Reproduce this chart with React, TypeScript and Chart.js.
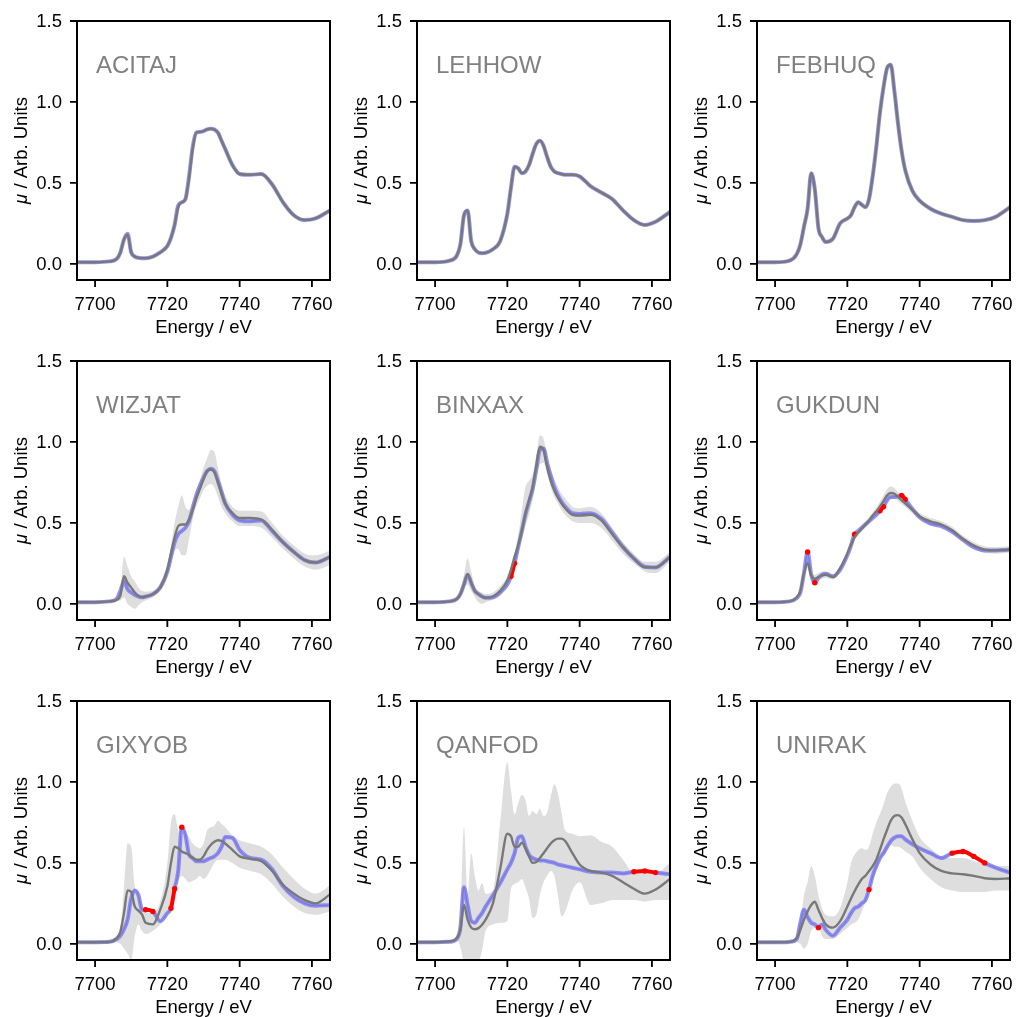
import React, { useEffect, useRef } from "react";
import { Chart, registerables } from "chart.js";

Chart.register(...registerables);

// ---------------- data ----------------
const ENERGY = [7695, 7700, 7704, 7706, 7707, 7708, 7709, 7710, 7711, 7712, 7713, 7714, 7716, 7718, 7720, 7721, 7722, 7723, 7724, 7725, 7726, 7727, 7728, 7729, 7730, 7731, 7732, 7733, 7734, 7735, 7736, 7738, 7740, 7743, 7746, 7749, 7752, 7755, 7758, 7761, 7765];

const X_TICKS = [7700, 7720, 7740, 7760];
const X_TICK_LABELS = ["7700", "7720", "7740", "7760"];
const Y_TICKS = [0, 0.5, 1.0, 1.5];
const Y_TICK_LABELS = ["0.0", "0.5", "1.0", "1.5"];
const X_TITLE = "Energy / eV";
const Y_TITLE_SYMBOL = "μ";
const Y_TITLE_REST = " / Arb. Units";

const NAMES = ["ACITAJ", "LEHHOW", "FEBHUQ", "WIZJAT", "BINXAX", "GUKDUN", "GIXYOB", "QANFOD", "UNIRAK"];

const ACITAJ_TRUE = [0.01, 0.01, 0.015, 0.03, 0.07, 0.15, 0.185, 0.07, 0.045, 0.037, 0.035, 0.035, 0.045, 0.07, 0.11, 0.16, 0.24, 0.36, 0.38, 0.40, 0.54, 0.72, 0.81, 0.815, 0.82, 0.83, 0.835, 0.83, 0.81, 0.76, 0.71, 0.61, 0.555, 0.55, 0.555, 0.49, 0.38, 0.30, 0.27, 0.28, 0.33];
const ACITAJ_MEAN = [0.01, 0.01, 0.015, 0.03, 0.07, 0.15, 0.18, 0.07, 0.045, 0.037, 0.035, 0.035, 0.045, 0.07, 0.11, 0.16, 0.24, 0.35, 0.38, 0.40, 0.53, 0.71, 0.81, 0.815, 0.82, 0.83, 0.835, 0.83, 0.81, 0.76, 0.71, 0.61, 0.555, 0.55, 0.555, 0.49, 0.38, 0.30, 0.27, 0.28, 0.33];

const LEHHOW_TRUE = [0.01, 0.01, 0.02, 0.05, 0.12, 0.30, 0.33, 0.14, 0.09, 0.07, 0.066, 0.068, 0.09, 0.14, 0.31, 0.47, 0.60, 0.59, 0.56, 0.57, 0.61, 0.68, 0.74, 0.76, 0.73, 0.66, 0.60, 0.57, 0.56, 0.555, 0.55, 0.55, 0.54, 0.48, 0.44, 0.40, 0.33, 0.27, 0.24, 0.26, 0.32];
const LEHHOW_MEAN = [0.01, 0.01, 0.02, 0.05, 0.12, 0.30, 0.33, 0.14, 0.09, 0.07, 0.066, 0.068, 0.09, 0.14, 0.31, 0.47, 0.60, 0.59, 0.56, 0.57, 0.61, 0.68, 0.74, 0.76, 0.73, 0.66, 0.60, 0.57, 0.56, 0.555, 0.55, 0.55, 0.54, 0.48, 0.44, 0.40, 0.33, 0.27, 0.24, 0.26, 0.32];

const FEBHUQ_TRUE = [0.01, 0.01, 0.02, 0.06, 0.12, 0.23, 0.34, 0.56, 0.46, 0.22, 0.165, 0.135, 0.155, 0.25, 0.28, 0.30, 0.35, 0.38, 0.365, 0.35, 0.40, 0.54, 0.72, 0.93, 1.09, 1.21, 1.23, 1.07, 0.87, 0.70, 0.58, 0.45, 0.39, 0.34, 0.31, 0.29, 0.27, 0.265, 0.27, 0.29, 0.35];
const FEBHUQ_MEAN = [0.01, 0.01, 0.02, 0.06, 0.12, 0.23, 0.34, 0.56, 0.46, 0.22, 0.165, 0.135, 0.155, 0.25, 0.28, 0.30, 0.35, 0.38, 0.365, 0.35, 0.40, 0.54, 0.72, 0.93, 1.09, 1.21, 1.23, 1.07, 0.87, 0.70, 0.58, 0.45, 0.39, 0.34, 0.31, 0.29, 0.27, 0.265, 0.27, 0.29, 0.35];

const WIZJAT_TRUE = [0.01, 0.01, 0.015, 0.03, 0.08, 0.14, 0.09, 0.07, 0.055, 0.045, 0.04, 0.045, 0.06, 0.10, 0.20, 0.29, 0.38, 0.43, 0.45, 0.47, 0.51, 0.59, 0.67, 0.73, 0.78, 0.82, 0.835, 0.82, 0.76, 0.69, 0.62, 0.55, 0.515, 0.51, 0.515, 0.45, 0.38, 0.32, 0.27, 0.255, 0.29];
const WIZJAT_MEAN = [0.01, 0.01, 0.015, 0.025, 0.05, 0.17, 0.13, 0.10, 0.07, 0.05, 0.04, 0.045, 0.06, 0.10, 0.21, 0.31, 0.41, 0.48, 0.49, 0.49, 0.52, 0.58, 0.65, 0.71, 0.77, 0.82, 0.83, 0.815, 0.75, 0.68, 0.62, 0.56, 0.53, 0.53, 0.52, 0.455, 0.38, 0.32, 0.27, 0.255, 0.29];
const WIZJAT_UPPER = [0.015, 0.015, 0.02, 0.04, 0.08, 0.29, 0.23, 0.17, 0.14, 0.10, 0.08, 0.075, 0.08, 0.12, 0.24, 0.36, 0.50, 0.60, 0.67, 0.60, 0.58, 0.63, 0.70, 0.76, 0.84, 0.90, 0.95, 0.94, 0.84, 0.74, 0.67, 0.60, 0.575, 0.575, 0.57, 0.50, 0.42, 0.36, 0.31, 0.30, 0.33];
const WIZJAT_LOWER = [0.005, 0.005, 0.01, 0.015, 0.02, 0.04, 0.0, -0.02, -0.03, -0.01, 0.01, 0.02, 0.04, 0.08, 0.17, 0.25, 0.33, 0.34, 0.30, 0.30, 0.40, 0.52, 0.60, 0.65, 0.70, 0.73, 0.74, 0.72, 0.66, 0.60, 0.56, 0.51, 0.48, 0.48, 0.47, 0.41, 0.34, 0.28, 0.23, 0.21, 0.24];

const BINXAX_TRUE = [0.01, 0.01, 0.015, 0.03, 0.06, 0.12, 0.18, 0.13, 0.08, 0.06, 0.045, 0.037, 0.04, 0.07, 0.12, 0.17, 0.25, 0.35, 0.45, 0.55, 0.63, 0.71, 0.83, 0.95, 0.96, 0.87, 0.79, 0.72, 0.67, 0.63, 0.60, 0.56, 0.555, 0.56, 0.525, 0.44, 0.35, 0.28, 0.23, 0.225, 0.29];
const BINXAX_MEAN = [0.01, 0.01, 0.015, 0.03, 0.06, 0.12, 0.185, 0.13, 0.08, 0.06, 0.045, 0.037, 0.045, 0.08, 0.145, 0.21, 0.29, 0.36, 0.45, 0.56, 0.64, 0.72, 0.85, 0.97, 0.95, 0.845, 0.76, 0.70, 0.655, 0.62, 0.59, 0.55, 0.545, 0.55, 0.515, 0.43, 0.35, 0.28, 0.225, 0.225, 0.29];
const BINXAX_UPPER = [0.015, 0.015, 0.02, 0.04, 0.09, 0.18, 0.28, 0.20, 0.11, 0.08, 0.07, 0.06, 0.07, 0.11, 0.17, 0.24, 0.32, 0.42, 0.58, 0.72, 0.76, 0.80, 0.92, 1.04, 1.02, 0.92, 0.83, 0.77, 0.72, 0.68, 0.65, 0.60, 0.59, 0.60, 0.56, 0.47, 0.38, 0.31, 0.26, 0.26, 0.32];
const BINXAX_LOWER = [0.005, 0.005, 0.01, 0.02, 0.04, 0.09, 0.12, 0.08, 0.04, 0.01, 0.0, 0.01, 0.025, 0.05, 0.12, 0.18, 0.27, 0.33, 0.40, 0.48, 0.55, 0.64, 0.76, 0.86, 0.87, 0.80, 0.72, 0.66, 0.62, 0.58, 0.55, 0.51, 0.50, 0.50, 0.47, 0.39, 0.31, 0.25, 0.20, 0.19, 0.26];

const GUKDUN_TRUE = [0.01, 0.01, 0.015, 0.035, 0.07, 0.19, 0.32, 0.18, 0.13, 0.16, 0.18, 0.185, 0.17, 0.21, 0.30, 0.36, 0.43, 0.45, 0.47, 0.49, 0.51, 0.53, 0.55, 0.575, 0.60, 0.64, 0.66, 0.66, 0.665, 0.67, 0.645, 0.585, 0.535, 0.495, 0.48, 0.445, 0.395, 0.35, 0.33, 0.33, 0.335];
const GUKDUN_MEAN = [0.01, 0.01, 0.015, 0.04, 0.08, 0.19, 0.25, 0.175, 0.155, 0.165, 0.175, 0.18, 0.165, 0.22, 0.31, 0.365, 0.41, 0.44, 0.465, 0.49, 0.515, 0.545, 0.57, 0.60, 0.635, 0.67, 0.685, 0.68, 0.66, 0.64, 0.62, 0.58, 0.54, 0.51, 0.49, 0.455, 0.40, 0.36, 0.335, 0.33, 0.335];
const GUKDUN_UPPER = [0.015, 0.015, 0.02, 0.05, 0.10, 0.22, 0.29, 0.20, 0.18, 0.19, 0.20, 0.20, 0.18, 0.24, 0.33, 0.385, 0.425, 0.46, 0.485, 0.51, 0.535, 0.565, 0.595, 0.63, 0.67, 0.71, 0.725, 0.715, 0.69, 0.665, 0.64, 0.60, 0.56, 0.53, 0.51, 0.475, 0.42, 0.38, 0.355, 0.35, 0.355];
const GUKDUN_LOWER = [0.005, 0.005, 0.01, 0.03, 0.06, 0.16, 0.22, 0.15, 0.14, 0.145, 0.155, 0.16, 0.15, 0.20, 0.29, 0.345, 0.395, 0.42, 0.445, 0.47, 0.495, 0.525, 0.55, 0.58, 0.61, 0.64, 0.655, 0.65, 0.635, 0.615, 0.60, 0.56, 0.52, 0.49, 0.47, 0.435, 0.38, 0.34, 0.315, 0.31, 0.315];

const GIXYOB_TRUE = [0.01, 0.01, 0.012, 0.03, 0.05, 0.09, 0.15, 0.28, 0.33, 0.30, 0.21, 0.21, 0.20, 0.14, 0.19, 0.22, 0.34, 0.45, 0.72, 0.67, 0.55, 0.53, 0.51, 0.51, 0.51, 0.52, 0.53, 0.54, 0.56, 0.60, 0.66, 0.655, 0.58, 0.53, 0.52, 0.46, 0.355, 0.29, 0.25, 0.235, 0.24];
const GIXYOB_MEAN = [0.01, 0.01, 0.012, 0.035, 0.075, 0.19, 0.33, 0.32, 0.23, 0.205, 0.18, 0.13, 0.12, 0.21, 0.355, 0.50, 0.60, 0.59, 0.57, 0.56, 0.55, 0.53, 0.52, 0.52, 0.54, 0.58, 0.61, 0.63, 0.64, 0.635, 0.62, 0.58, 0.54, 0.525, 0.51, 0.45, 0.365, 0.31, 0.27, 0.25, 0.305];
const GIXYOB_UPPER = [0.015, 0.015, 0.02, 0.05, 0.10, 0.35, 0.62, 0.60, 0.35, 0.31, 0.25, 0.19, 0.19, 0.26, 0.50, 0.75, 0.80, 0.70, 0.66, 0.68, 0.66, 0.62, 0.60, 0.59, 0.62, 0.70, 0.72, 0.73, 0.76, 0.74, 0.72, 0.67, 0.64, 0.62, 0.60, 0.55, 0.47, 0.40, 0.34, 0.31, 0.36];
const GIXYOB_LOWER = [0.005, 0.005, 0.008, 0.01, 0.0, -0.03, -0.06, -0.1, 0.05, 0.12, 0.08, 0.06, 0.08, 0.12, 0.18, 0.24, 0.38, 0.40, 0.42, 0.40, 0.38, 0.39, 0.40, 0.42, 0.40, 0.42, 0.46, 0.50, 0.52, 0.52, 0.52, 0.50, 0.47, 0.45, 0.43, 0.37, 0.29, 0.23, 0.19, 0.18, 0.20];

const QANFOD_TRUE = [0.01, 0.01, 0.012, 0.03, 0.10, 0.35, 0.24, 0.14, 0.13, 0.16, 0.19, 0.23, 0.30, 0.375, 0.46, 0.50, 0.56, 0.655, 0.665, 0.60, 0.55, 0.53, 0.52, 0.515, 0.515, 0.51, 0.505, 0.50, 0.49, 0.485, 0.48, 0.47, 0.46, 0.445, 0.44, 0.44, 0.435, 0.445, 0.45, 0.44, 0.43];
const QANFOD_MEAN = [0.01, 0.01, 0.015, 0.035, 0.087, 0.24, 0.15, 0.10, 0.09, 0.097, 0.118, 0.15, 0.25, 0.46, 0.68, 0.665, 0.60, 0.60, 0.625, 0.59, 0.54, 0.50, 0.505, 0.53, 0.56, 0.59, 0.62, 0.64, 0.65, 0.65, 0.635, 0.56, 0.49, 0.45, 0.44, 0.42, 0.38, 0.34, 0.31, 0.335, 0.40];
const QANFOD_UPPER = [0.015, 0.015, 0.02, 0.05, 0.15, 0.72, 0.30, 0.56, 0.42, 0.33, 0.375, 0.31, 0.33, 0.75, 1.12, 0.95, 0.80, 0.87, 0.92, 0.89, 0.79, 0.82, 0.80, 0.835, 0.79, 0.81, 0.91, 0.985, 0.93, 0.81, 0.70, 0.68, 0.665, 0.67, 0.63, 0.60, 0.52, 0.44, 0.44, 0.435, 0.50];
const QANFOD_LOWER = [0.005, 0.005, 0.01, 0.02, -0.02, -0.12, -0.15, -0.15, -0.15, -0.12, -0.04, 0.08, 0.12, 0.13, 0.14, 0.34, 0.37, 0.38, 0.40, 0.35, 0.28, 0.16, 0.18, 0.30, 0.38, 0.42, 0.45, 0.42, 0.30, 0.17, 0.20, 0.33, 0.38, 0.24, 0.25, 0.27, 0.27, 0.27, 0.26, 0.27, 0.27];

const UNIRAK_TRUE = [0.01, 0.01, 0.012, 0.03, 0.13, 0.21, 0.165, 0.13, 0.12, 0.10, 0.12, 0.087, 0.05, 0.10, 0.15, 0.19, 0.22, 0.23, 0.25, 0.27, 0.335, 0.42, 0.48, 0.53, 0.56, 0.60, 0.635, 0.655, 0.665, 0.665, 0.645, 0.615, 0.59, 0.56, 0.53, 0.56, 0.57, 0.54, 0.50, 0.47, 0.44];
const UNIRAK_MEAN = [0.01, 0.01, 0.012, 0.035, 0.087, 0.15, 0.20, 0.24, 0.26, 0.21, 0.16, 0.12, 0.10, 0.14, 0.23, 0.28, 0.325, 0.365, 0.40, 0.42, 0.45, 0.48, 0.52, 0.58, 0.645, 0.705, 0.76, 0.79, 0.795, 0.78, 0.74, 0.645, 0.56, 0.49, 0.45, 0.435, 0.43, 0.42, 0.405, 0.40, 0.405];
const UNIRAK_UPPER = [0.015, 0.015, 0.02, 0.05, 0.14, 0.30, 0.38, 0.48, 0.42, 0.30, 0.22, 0.18, 0.17, 0.22, 0.38, 0.50, 0.55, 0.58, 0.59, 0.58, 0.60, 0.68, 0.75, 0.80, 0.86, 0.93, 0.97, 0.99, 0.99, 0.96, 0.88, 0.76, 0.66, 0.59, 0.54, 0.53, 0.53, 0.51, 0.495, 0.48, 0.48];
const UNIRAK_LOWER = [0.005, 0.005, 0.008, 0.01, 0.0, -0.03, 0.0, 0.08, 0.10, 0.11, 0.05, 0.03, 0.03, 0.06, 0.10, 0.12, 0.13, 0.15, 0.20, 0.26, 0.34, 0.40, 0.45, 0.50, 0.55, 0.58, 0.61, 0.60, 0.60, 0.59, 0.57, 0.54, 0.47, 0.40, 0.35, 0.33, 0.32, 0.32, 0.32, 0.33, 0.33];

type PanelData = {
  name: string;
  truth: number[];
  mean: number[];
  upper: number[] | null;
  lower: number[] | null;
};

const PANELS: PanelData[] = [
  { name: NAMES[0], truth: ACITAJ_TRUE, mean: ACITAJ_MEAN, upper: null, lower: null },
  { name: NAMES[1], truth: LEHHOW_TRUE, mean: LEHHOW_MEAN, upper: null, lower: null },
  { name: NAMES[2], truth: FEBHUQ_TRUE, mean: FEBHUQ_MEAN, upper: null, lower: null },
  { name: NAMES[3], truth: WIZJAT_TRUE, mean: WIZJAT_MEAN, upper: WIZJAT_UPPER, lower: WIZJAT_LOWER },
  { name: NAMES[4], truth: BINXAX_TRUE, mean: BINXAX_MEAN, upper: BINXAX_UPPER, lower: BINXAX_LOWER },
  { name: NAMES[5], truth: GUKDUN_TRUE, mean: GUKDUN_MEAN, upper: GUKDUN_UPPER, lower: GUKDUN_LOWER },
  { name: NAMES[6], truth: GIXYOB_TRUE, mean: GIXYOB_MEAN, upper: GIXYOB_UPPER, lower: GIXYOB_LOWER },
  { name: NAMES[7], truth: QANFOD_TRUE, mean: QANFOD_MEAN, upper: QANFOD_UPPER, lower: QANFOD_LOWER },
  { name: NAMES[8], truth: UNIRAK_TRUE, mean: UNIRAK_MEAN, upper: UNIRAK_UPPER, lower: UNIRAK_LOWER },
];

// ---------------- style ----------------
const FONT = '"Liberation Sans", Arial, Helvetica, sans-serif';
const CELL = 340;
const PAD = { left: 77, top: 21, right: 10, bottom: 60 };
const GRAY_LINE = "#787878";
const LAVENDER = "rgba(128,128,235,0.85)";
const BLUE = "#2020ff";
const RED = "#ff0000";
const BAND = "#dedede";

const toXY = (arr: number[]) => ENERGY.map((e, i) => ({ x: e, y: arr[i] }));

function Panel({ p, left, top }: { p: PanelData; left: number; top: number }) {
  const ref = useRef<HTMLCanvasElement>(null);

  useEffect(() => {
    const canvas = ref.current;
    if (!canvas) return;

    const out = (i: number) =>
      !!p.upper && !!p.lower && i >= 0 && i < p.truth.length &&
      (p.truth[i] > p.upper[i] || p.truth[i] < p.lower[i]);

    const datasets: any[] = [
      {
        label: "mean",
        data: toXY(p.mean),
        borderColor: GRAY_LINE,
        borderWidth: 2.4,
        pointRadius: 0,
        fill: false,
        cubicInterpolationMode: "monotone",
        order: 0,
      },
      {
        label: "truth",
        data: toXY(p.truth),
        borderColor: LAVENDER,
        borderWidth: 4,
        pointRadius: (ctx: any) => (out(ctx.dataIndex) ? 2.7 : 0),
        pointBackgroundColor: RED,
        pointBorderWidth: 0,
        fill: false,
        cubicInterpolationMode: "monotone",
        segment: {
          borderColor: (ctx: any) =>
            out(ctx.p0DataIndex) && out(ctx.p1DataIndex) ? RED : undefined,
        },
        order: 1,
      },
      {
        label: "truthLine",
        data: toXY(p.truth),
        borderColor: BLUE,
        borderWidth: 1,
        pointRadius: 0,
        fill: false,
        cubicInterpolationMode: "monotone",
        order: 2,
      },
    ];
    if (p.upper && p.lower) {
      datasets.push({
        label: "upper",
        data: toXY(p.upper),
        borderWidth: 0,
        borderColor: "rgba(0,0,0,0)",
        backgroundColor: BAND,
        pointRadius: 0,
        fill: "+1",
        cubicInterpolationMode: "monotone",
        order: 3,
      });
      datasets.push({
        label: "lower",
        data: toXY(p.lower),
        borderWidth: 0,
        borderColor: "rgba(0,0,0,0)",
        pointRadius: 0,
        fill: false,
        cubicInterpolationMode: "monotone",
        order: 4,
      });
    }

    const decor = {
      id: "decor",
      afterDraw(chart: any) {
        const ctx = chart.ctx as CanvasRenderingContext2D;
        const a = chart.chartArea;
        const xs = chart.scales.x;
        const ys = chart.scales.y;
        ctx.save();
        // frame
        ctx.strokeStyle = "#000";
        ctx.lineWidth = 2;
        ctx.strokeRect(a.left, a.top, a.right - a.left, a.bottom - a.top);
        // ticks
        ctx.lineWidth = 1.8;
        ctx.beginPath();
        X_TICKS.forEach((v) => {
          const px = xs.getPixelForValue(v);
          ctx.moveTo(px, a.bottom);
          ctx.lineTo(px, a.bottom + 7);
        });
        Y_TICKS.forEach((v) => {
          const py = ys.getPixelForValue(v);
          ctx.moveTo(a.left - 7, py);
          ctx.lineTo(a.left, py);
        });
        ctx.stroke();
        // tick labels
        ctx.fillStyle = "#000";
        ctx.font = `18.5px ${FONT}`;
        ctx.textAlign = "center";
        ctx.textBaseline = "alphabetic";
        X_TICKS.forEach((v, i) => {
          ctx.fillText(X_TICK_LABELS[i], xs.getPixelForValue(v), a.bottom + 29.5);
        });
        ctx.textAlign = "right";
        ctx.textBaseline = "middle";
        Y_TICKS.forEach((v, i) => {
          ctx.fillText(Y_TICK_LABELS[i], a.left - 15, ys.getPixelForValue(v) + 1);
        });
        // x title
        ctx.textAlign = "center";
        ctx.textBaseline = "alphabetic";
        ctx.fillText(X_TITLE, (a.left + a.right) / 2, a.bottom + 52.5);
        // y title
        ctx.save();
        ctx.translate(27, (a.top + a.bottom) / 2);
        ctx.rotate(-Math.PI / 2);
        ctx.font = `italic 18.5px ${FONT}`;
        const w1 = ctx.measureText(Y_TITLE_SYMBOL).width;
        ctx.font = `18.5px ${FONT}`;
        const w2 = ctx.measureText(Y_TITLE_REST).width;
        const start = -(w1 + w2) / 2;
        ctx.textAlign = "left";
        ctx.textBaseline = "alphabetic";
        ctx.font = `italic 18.5px ${FONT}`;
        ctx.fillText(Y_TITLE_SYMBOL, start, 0);
        ctx.font = `18.5px ${FONT}`;
        ctx.fillText(Y_TITLE_REST, start + w1, 0);
        ctx.restore();
        // panel name
        ctx.fillStyle = "#808080";
        ctx.font = `24px ${FONT}`;
        ctx.textAlign = "left";
        ctx.textBaseline = "alphabetic";
        ctx.fillText(p.name, a.left + 19, a.top + 52);
        ctx.restore();
      },
    };

    const chart = new Chart(canvas, {
      type: "line",
      data: { datasets },
      options: {
        responsive: false,
        maintainAspectRatio: false,
        animation: false,
        devicePixelRatio: 1,
        layout: { padding: PAD },
        plugins: {
          legend: { display: false },
          tooltip: { enabled: false },
          title: { display: false },
        },
        events: [],
        scales: {
          x: { type: "linear", min: 7695, max: 7765, display: false },
          y: { type: "linear", min: -0.1, max: 1.5, display: false },
        },
      } as any,
      plugins: [decor],
    });
    return () => chart.destroy();
  }, [p]);

  return (
    <canvas
      ref={ref}
      width={CELL}
      height={CELL}
      style={{ position: "absolute", left, top, width: CELL, height: CELL }}
    />
  );
}

export default function App() {
  return (
    <div
      style={{
        position: "fixed",
        left: 0,
        top: 0,
        width: 1016,
        height: 1017,
        overflow: "hidden",
        background: "#ffffff",
      }}
    >
      {PANELS.map((p, i) => (
        <Panel key={p.name} p={p} left={(i % 3) * CELL} top={Math.floor(i / 3) * CELL} />
      ))}
    </div>
  );
}
